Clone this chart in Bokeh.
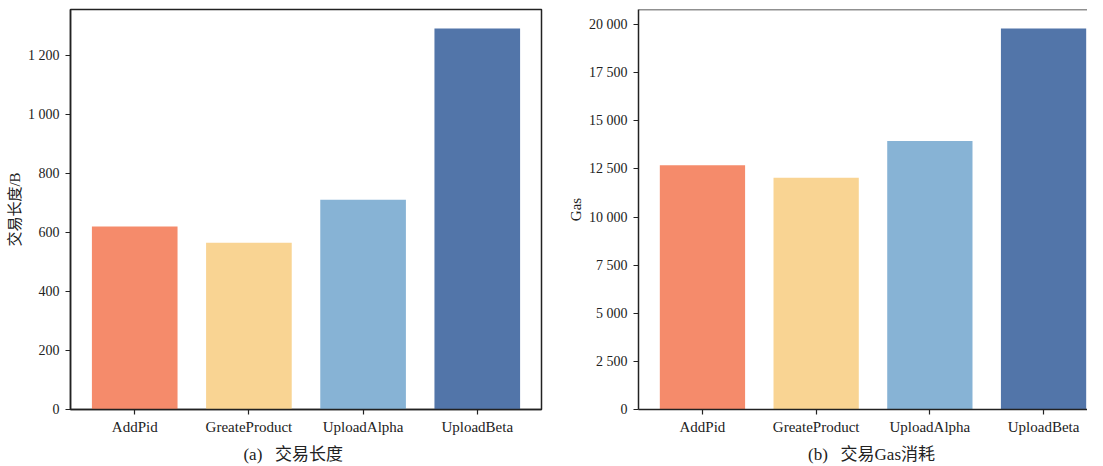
from bokeh.plotting import figure
from bokeh.layouts import row
from bokeh.models import ColumnDataSource, FixedTicker, Range1d, Span
from bokeh.embed import file_html
from bokeh.resources import INLINE

categories = ["AddPid", "GreateProduct", "UploadAlpha", "UploadBeta"]
colors = ["#F58B6B", "#F9D493", "#87B3D5", "#5275A9"]
length_bytes = [620, 565, 710, 1290]
gas_used = [12700, 12050, 13950, 19800]

left_ticks = [0, 200, 400, 600, 800, 1000, 1200]
left_tick_labels = ["0", "200", "400", "600", "800", "1 000", "1 200"]
right_ticks = [0, 2500, 5000, 7500, 10000, 12500, 15000, 17500, 20000]
right_tick_labels = ["0", "2 500", "5 000", "7 500", "10 000", "12 500", "15 000", "17 500", "20 000"]

FONT = "'Liberation Serif', 'Noto Sans CJK SC', serif"
AX = "#222222"
NB = "\u00a0"


def make(values, ticks, tick_labels, ylabel, caption, width, bl, br, x_end, outline):
    pos = list(range(len(categories)))
    ymax = max(values) * 1.05
    src = ColumnDataSource(dict(x=pos, top=values, color=colors))
    p = figure(width=width, height=466, output_backend="svg", toolbar_location=None,
               x_range=Range1d(-0.5625, x_end), y_range=Range1d(0, ymax),
               min_border_left=bl, min_border_right=br, min_border_top=9, min_border_bottom=52)
    p.vbar(x="x", top="top", width=0.75, color="color", source=src, line_color=None)
    p.grid.visible = False
    p.background_fill_color = "white"
    p.border_fill_color = "white"
    if outline:
        p.outline_line_color = AX
        p.outline_line_width = 1.5
    else:
        p.outline_line_color = None
        p.add_layout(Span(location=ymax, dimension="width", line_color=AX, line_width=1.5))
    xa = p.below[0]
    xa.ticker = FixedTicker(ticks=pos)
    xa.major_label_overrides = {i: c for i, c in enumerate(categories)}
    xa.axis_label = caption
    xa.axis_label_text_font_style = "normal"
    xa.axis_label_text_font_size = "17px"
    xa.axis_label_standoff = 7
    xa.major_label_text_font_size = "15px"
    xa.major_label_standoff = 4
    ya = p.left[0]
    ya.ticker = FixedTicker(ticks=ticks)
    ya.major_label_overrides = {t: l for t, l in zip(ticks, tick_labels)}
    ya.axis_label = ylabel
    ya.axis_label_text_font_style = "normal"
    ya.axis_label_text_font_size = "15px"
    ya.axis_label_standoff = 2
    ya.major_label_text_font_size = "14px"
    ya.major_label_standoff = 6
    for ax in (xa, ya):
        ax.axis_line_color = AX
        ax.axis_line_width = 1.5
        ax.major_tick_line_color = AX
        ax.major_tick_line_width = 1.2
        ax.major_tick_out = 5
        ax.major_tick_in = 0
        ax.minor_tick_line_color = None
        ax.major_label_text_font = FONT
        ax.axis_label_text_font = FONT
        ax.major_label_text_color = "#222222"
        ax.axis_label_text_color = "#222222"
    return p


cap_a = "(a)" + NB * 3 + "交易长度" + NB * 6
cap_b = NB * 4 + "(b)" + NB * 3 + "交易Gas消耗"

p1 = make(length_bytes, left_ticks, left_tick_labels, "交易长度/B", cap_a,
          558, 70, 17, 3.5625, True)
p2 = make(gas_used, right_ticks, right_tick_labels, "Gas", cap_b,
          529, 80, 0, -0.5625 + 449 / 113.7, False)

layout = row(p1, p2)
open("out.html", "w").write(file_html(layout, INLINE))
